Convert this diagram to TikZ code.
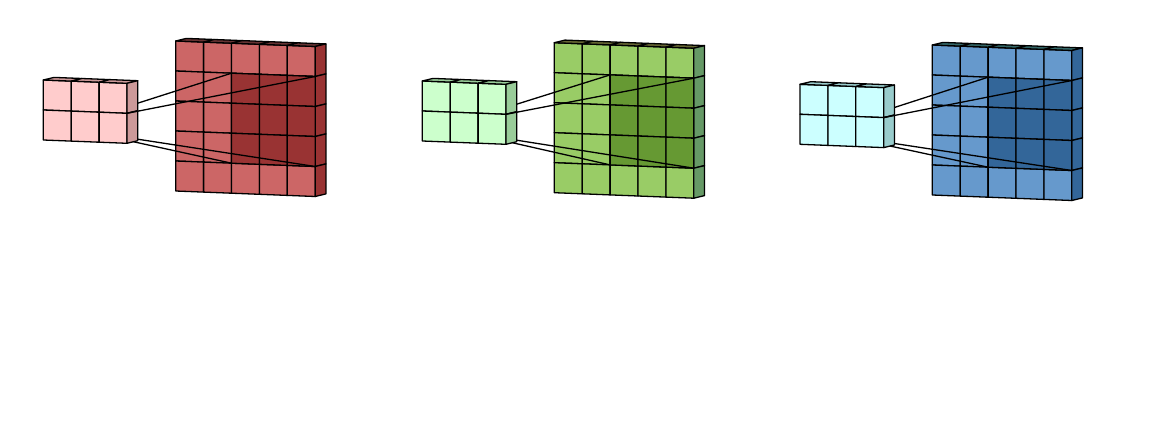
\documentclass[tikz,border=0pt]{standalone}

\definecolor{redSmall}{HTML}{FFCCCC}
\definecolor{redSmallSide}{HTML}{CC9999}
\definecolor{redBig}{HTML}{CC6666}
\definecolor{redBigSide}{HTML}{993333}
\definecolor{redBigTop}{HTML}{663333}
\definecolor{redDeep}{HTML}{993333}
\definecolor{greenSmall}{HTML}{CCFFCC}
\definecolor{greenSmallSide}{HTML}{99CC99}
\definecolor{greenBig}{HTML}{99CC66}
\definecolor{greenBigSide}{HTML}{669966}
\definecolor{greenBigTop}{HTML}{666633}
\definecolor{greenDeep}{HTML}{669933}
\definecolor{blueSmall}{HTML}{CCFFFF}
\definecolor{blueSmallSide}{HTML}{99CCCC}
\definecolor{blueBig}{HTML}{6699CC}
\definecolor{blueBigSide}{HTML}{336699}
\definecolor{blueBigTop}{HTML}{336666}
\definecolor{blueDeep}{HTML}{336699}

\tikzset{
  cell/.style={draw=black, line width=1.3pt, line join=round},
  link/.style={draw=black, line width=1.3pt},
  grid vectors/.style={x={(27.9pt,-1.1pt)}, y={(0pt,-30pt)}, z={(10.7pt,2.6pt)}}
}

% top left corner, columns, rows, front, side, top
\newcommand{\cellblock}[6]{
  \begin{scope}[shift={(#1)}, grid vectors]
    \foreach \i in {1,...,#2}
      \foreach \j in {1,...,#3}
        \draw[cell, fill=#4] (\i-1,\j-1) -- (\i,\j-1) -- (\i,\j) -- (\i-1,\j) -- cycle;
    \foreach \i in {1,...,#2}
      \draw[cell, fill=#6] (\i-1,0,0) -- (\i,0,0) -- (\i,0,1) -- (\i-1,0,1) -- cycle;
    \foreach \j in {1,...,#3}
      \draw[cell, fill=#5] (#2,\j-1,0) -- (#2,\j,0) -- (#2,\j,1) -- (#2,\j-1,1) -- cycle;
  \end{scope}
}

\begin{document}
\begin{tikzpicture}[x=1pt, y=-1pt]
  \useasboundingbox (0,0) rectangle (1166,431);
  \fill[white] (0,0) rectangle (1166,431);

  \foreach \g/\sx/\sy/\bx/\by in {red/43.3/80/175.7/41, green/422.3/81/554.3/42.7, blue/800/84.3/932.3/45} {
    \cellblock{\bx,\by}{5}{5}{\g Big}{\g BigSide}{\g BigTop}
    % the receptive field
    \begin{scope}[shift={(\bx,\by)}, grid vectors]
      \foreach \i in {3,4,5}
        \foreach \j in {2,3,4}
          \draw[cell, fill=\g Deep] (\i-1,\j-1) -- (\i,\j-1) -- (\i,\j) -- (\i-1,\j) -- cycle;
      \coordinate (\g P) at (2,1);
      \coordinate (\g Q) at (5,1);
      \coordinate (\g R) at (2,4);
      \coordinate (\g S) at (5,4);
    \end{scope}
    \cellblock{\sx,\sy}{3}{2}{\g Small}{\g SmallSide}{\g SmallSide}
    \begin{scope}[shift={(\sx,\sy)}, grid vectors]
      \coordinate (\g K) at (3,0.75,1);
      \coordinate (\g L) at (3,1,0);
      \coordinate (\g M) at (3,1.95,1);
      \coordinate (\g N) at (3,2,0.6);
    \end{scope}
    \draw[link] (\g K) -- (\g P);
    \draw[link] (\g L) -- (\g Q);
    \draw[link] (\g N) -- (\g R);
    \draw[link] (\g M) -- (\g S);
  }
\end{tikzpicture}
\end{document}
